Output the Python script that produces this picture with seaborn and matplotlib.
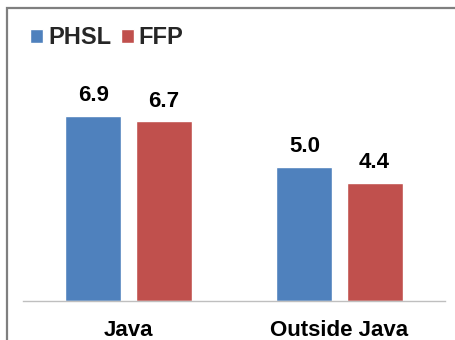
import matplotlib
matplotlib.use("Agg")
import matplotlib.pyplot as plt
import seaborn as sns
import pandas as pd
from matplotlib.patches import Rectangle

regions = ["Java", "Outside Java"]
series = ["PHSL", "FFP"]
phsl = [6.9, 5.0]
ffp = [6.7, 4.4]
colors = ["#4F81BD", "#C0504D"]

df = pd.DataFrame({
    "region": regions * 2,
    "series": [series[0]] * len(regions) + [series[1]] * len(regions),
    "value": phsl + ffp,
})

sns.set_theme(style="white")
plt.rcParams["font.family"] = ["Liberation Sans", "DejaVu Sans"]

W, H = 456, 340
fig = plt.figure(figsize=(W / 100, H / 100), dpi=100)
fig.patch.set_facecolor("white")

# plot area in pixel coordinates
left, right, top, bottom = 23, 445, 30, 301
ax = fig.add_axes([left / W, 1 - bottom / H, (right - left) / W, (bottom - top) / H])

sns.barplot(data=df, x="region", y="value", hue="series", order=regions,
            hue_order=series, palette=colors, width=0.664, gap=0.2,
            saturation=1, ax=ax, legend=True)

ax.set_xlim(-0.5, 1.5)
ax.set_ylim(0, 10.11)
ax.set_xlabel("")
ax.set_ylabel("")
ax.set_yticks([])
ax.tick_params(axis="x", length=0, pad=14)
for lab in ax.get_xticklabels():
    lab.set_fontsize(16)
    lab.set_fontweight("bold")
    lab.set_color("black")
for s in ["top", "right", "left"]:
    ax.spines[s].set_visible(False)
ax.spines["bottom"].set_color("#BFBFBF")
ax.spines["bottom"].set_linewidth(1.0)

for cont in ax.containers:
    ax.bar_label(cont, fmt="%.1f", padding=7, fontsize=16, fontweight="bold",
                 color="black")

handles, labels = ax.get_legend_handles_labels()
ax.legend(handles, labels, loc="upper left", bbox_to_anchor=(21 / W, 1 - 17 / H),
          bbox_transform=fig.transFigure, ncol=2, frameon=False,
          handlelength=0.55, handleheight=0.55, handletextpad=0.2,
          columnspacing=0.4, borderaxespad=0,
          prop={"weight": "bold", "size": 17})

# outer frame around the chart
fig.patches.append(Rectangle((7 / W, -0.1), 1.2, 1 - 8 / H + 0.1,
                             transform=fig.transFigure, fill=False,
                             edgecolor="#7F7F7F", linewidth=1.6))

fig.savefig("out.png", dpi=100, facecolor="white")
